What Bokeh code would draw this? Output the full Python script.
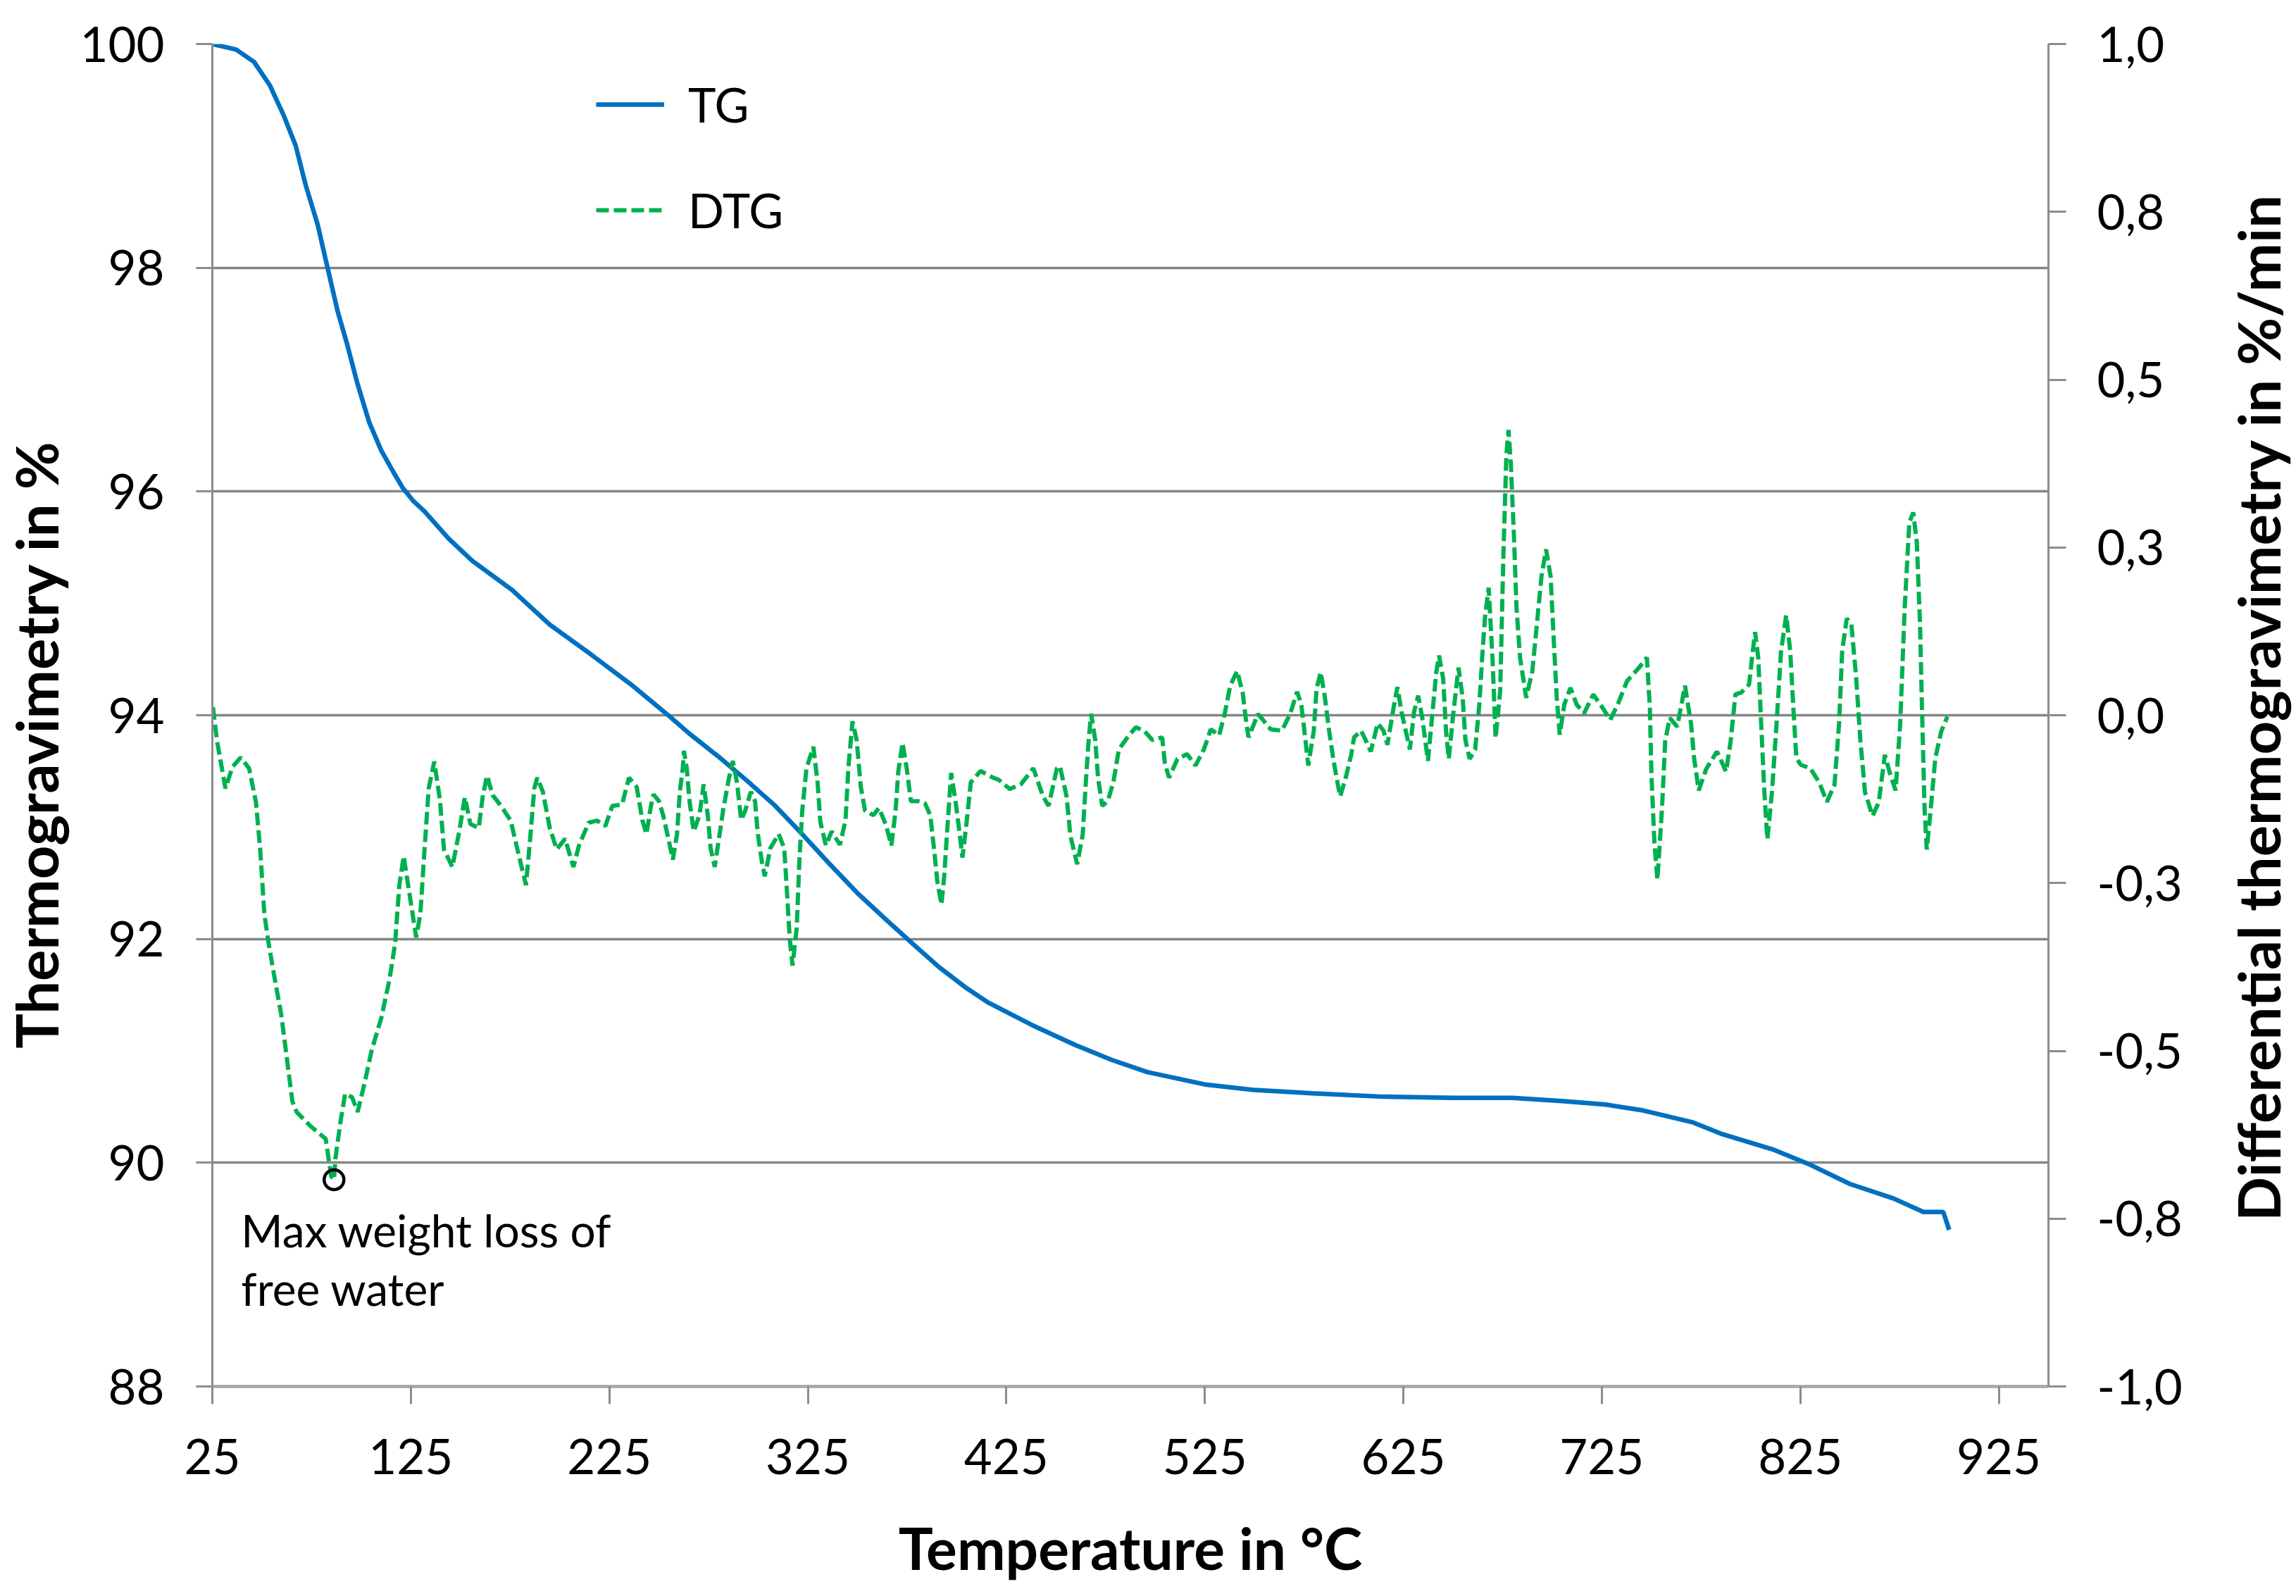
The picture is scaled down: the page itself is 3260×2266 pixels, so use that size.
import math
from bokeh.plotting import figure
from bokeh.layouts import row
from bokeh.models import Range1d, LinearAxis, FixedTicker, Legend, LegendItem
from bokeh.embed import file_html
from bokeh.resources import INLINE
from bokeh.core.properties import value

# ---------------- data ----------------
temp_tg = [25, 37, 46, 54, 61, 67, 72, 78, 82, 85, 88, 93, 98, 104, 110, 116, 121, 126, 132,
           144, 156, 176, 195, 216, 237, 254, 265, 280, 294, 308, 322, 336, 350, 364, 377,
           391, 405, 416, 438, 460, 478, 496, 525, 550, 579, 615, 651, 680, 706, 727, 745,
           771, 785, 811, 829, 850, 872, 887, 897, 900]
tg = [100.0, 99.95, 99.84, 99.63, 99.36, 99.09, 98.74, 98.39, 98.08, 97.85, 97.62, 97.31,
      96.97, 96.62, 96.37, 96.18, 96.03, 95.92, 95.82, 95.58, 95.38, 95.12, 94.81, 94.54,
      94.26, 94.01, 93.84, 93.63, 93.42, 93.20, 92.94, 92.67, 92.41, 92.18, 91.97, 91.75,
      91.56, 91.43, 91.23, 91.05, 90.92, 90.81, 90.70, 90.65, 90.62, 90.59, 90.58, 90.58,
      90.55, 90.52, 90.47, 90.36, 90.26, 90.12, 89.99, 89.81, 89.68, 89.56, 89.56, 89.40]

temp_dtg = [25.3, 27.4, 31.6, 35.1, 39.3, 43.5, 47.0, 49.1, 51.2, 53.3, 56.1, 59.7, 62.5, 65.3,
            67.4, 74.4, 82.1, 84.9, 86.3, 87.0, 89.8, 91.9, 95.4, 98.2, 101.7, 105.2, 110.1,
            114.3, 117.1, 119.2, 121.4, 124.2, 127.7, 129.8, 131.9, 134.0, 136.8, 139.6,
            141.7, 145.9, 149.4, 152.2, 155.0, 159.2, 161.3, 163.4, 166.2, 170.4, 175.3,
            179.5, 183.0, 185.1, 187.2, 188.7, 191.5, 195.0, 198.5, 202.7, 206.9, 209.7,
            214.6, 218.8, 223.0, 226.5, 231.4, 234.9, 238.8, 241.6, 243.7, 245.8, 247.2,
            250.0, 252.1, 254.2, 257.0, 259.1, 260.5, 262.0, 262.6, 264.0, 265.4, 267.5,
            270.4, 272.5, 274.6, 276.0, 278.1, 280.2, 282.3, 285.1, 287.2, 289.3, 291.4,
            293.5, 296.3, 298.4, 299.8, 301.9, 303.3, 306.1, 310.3, 313.1, 314.5, 315.9,
            317.3, 319.4, 320.8, 322.2, 324.3, 327.8, 329.9, 331.3, 334.1, 337.0, 341.2,
            344.0, 345.4, 347.5, 349.6, 351.7, 353.8, 358.0, 360.8, 364.3, 367.1, 369.2,
            370.6, 372.7, 374.8, 376.9, 380.4, 384.0, 386.7, 388.8, 390.2, 392.3, 393.7,
            395.1, 397.2, 399.4, 401.5, 402.9, 405.0, 407.1, 412.0, 418.3, 421.1, 426.7,
            432.3, 438.6, 443.5, 446.3, 450.5, 452.0, 455.3, 457.3, 460.7, 463.5, 464.9,
            466.3, 467.7, 469.8, 471.2, 473.3, 476.1, 478.9, 481.7, 486.0, 490.2, 494.4,
            498.6, 503.5, 504.9, 507.0, 511.2, 516.1, 520.3, 524.5, 528.0, 532.2, 535.0,
            537.8, 541.3, 544.1, 545.5, 547.0, 551.8, 558.2, 563.8, 568.0, 571.5, 573.6,
            575.7, 577.1, 579.9, 581.3, 583.4, 585.5, 587.6, 589.7, 591.8, 593.2, 596.0,
            598.8, 600.2, 603.7, 606.5, 608.6, 612.1, 615.0, 617.0, 619.9, 622.0, 624.1,
            626.2, 628.3, 630.4, 632.5, 634.6, 637.4, 639.5, 641.6, 643.0, 645.1, 646.5,
            647.9, 650.0, 652.8, 654.9, 656.3, 658.4, 661.2, 663.3, 664.7, 666.1, 668.0,
            670.0, 671.5, 673.8, 675.4, 676.9, 678.0, 679.2, 680.8, 682.0, 683.8, 686.9,
            690.0, 692.3, 694.6, 696.9, 699.2, 700.8, 702.3, 703.8, 706.1, 709.2, 712.3,
            716.1, 720.7, 725.4, 729.2, 733.0, 737.7, 743.8, 747.7, 749.2, 750.0, 751.5,
            753.0, 755.3, 756.9, 759.2, 763.0, 766.9, 770.0, 771.5, 773.8, 777.6, 783.0,
            787.6, 789.9, 792.3, 795.3, 799.2, 800.7, 802.2, 803.8, 805.3, 806.9, 808.4,
            810.7, 813.0, 815.3, 817.9, 819.9, 821.5, 823.0, 825.3, 830.0, 834.5, 838.4,
            842.2, 844.5, 846.1, 848.4, 850.7, 853.0, 855.3, 857.6, 861.4, 864.5, 867.6,
            870.0, 873.0, 875.3, 877.6, 879.9, 881.9, 883.7, 885.3, 886.5, 887.6, 888.7,
            890.7, 893.0, 896.0, 899.1]
dtg = [0.012, -0.039, -0.109, -0.077, -0.063, -0.079, -0.13, -0.20, -0.296, -0.339, -0.387,
       -0.446, -0.51, -0.575, -0.591, -0.612, -0.631, -0.687, -0.692, -0.66, -0.601, -0.564,
       -0.569, -0.591, -0.548, -0.50, -0.451, -0.393, -0.339, -0.253, -0.21, -0.264, -0.331,
       -0.296, -0.20, -0.109, -0.069, -0.125, -0.20, -0.226, -0.173, -0.122, -0.162, -0.168,
       -0.119, -0.09, -0.119, -0.135, -0.157, -0.21, -0.253, -0.184, -0.109, -0.093, -0.114,
       -0.168, -0.20, -0.184, -0.226, -0.194, -0.16, -0.157, -0.165, -0.135, -0.133, -0.093,
       -0.107, -0.156, -0.177, -0.138, -0.118, -0.128, -0.149, -0.177, -0.215, -0.177,
       -0.114, -0.079, -0.053, -0.079, -0.128, -0.173, -0.149, -0.103, -0.149, -0.198,
       -0.226, -0.184, -0.142, -0.096, -0.068, -0.10, -0.156, -0.142, -0.114, -0.128,
       -0.177, -0.219, -0.24, -0.198, -0.177, -0.198, -0.264, -0.334, -0.373, -0.317,
       -0.212, -0.142, -0.079, -0.047, -0.10, -0.159, -0.194, -0.173, -0.193, -0.156,
       -0.079, -0.009, -0.037, -0.107, -0.142, -0.149, -0.138, -0.163, -0.194, -0.142,
       -0.083, -0.041, -0.079, -0.128, -0.128, -0.131, -0.149, -0.205, -0.247, -0.282,
       -0.24, -0.177, -0.086, -0.128, -0.177, -0.212, -0.159, -0.10, -0.083, -0.093,
       -0.096, -0.11, -0.103, -0.079, -0.121, -0.135, -0.079, -0.076, -0.12, -0.18,
       -0.222, -0.177, -0.107, -0.044, 0.002, -0.037, -0.093, -0.135, -0.128, -0.10,
       -0.051, -0.033, -0.018, -0.023, -0.037, -0.033, -0.072, -0.093, -0.065, -0.058,
       -0.075, -0.051, -0.021, -0.03, 0.002, 0.044, 0.066, 0.033, -0.002, -0.033, 0.002,
       -0.021, -0.023, 0.002, 0.035, 0.016, -0.037, -0.075, -0.023, 0.04, 0.064, 0.026,
       -0.023, -0.065, -0.10, -0.121, -0.093, -0.058, -0.033, -0.023, -0.04, -0.054,
       -0.012, -0.023, -0.044, 0.008, 0.042, 0.005, -0.023, -0.051, 0.005, 0.029, -0.005,
       -0.068, -0.002, 0.064, 0.089, 0.054, -0.023, -0.065, -0.002, 0.071, 0.026, -0.037,
       -0.065, -0.051, 0.016, 0.085, 0.145, 0.19, 0.08, -0.034, 0.036, 0.237, 0.387,
       0.425, 0.372, 0.262, 0.161, 0.086, 0.026, 0.066, 0.136, 0.207, 0.247, 0.207, 0.111,
       0.026, -0.029, 0.016, 0.041, 0.016, 0.003, 0.031, 0.011, -0.007, 0.016, 0.051,
       0.071, 0.086, 0.011, -0.089, -0.19, -0.245, -0.14, -0.039, -0.004, -0.017, 0.044,
       -0.014, -0.064, -0.112, -0.08, -0.054, -0.084, -0.039, 0.031, 0.034, 0.046, 0.086,
       0.124, 0.086, -0.014, -0.115, -0.185, -0.115, -0.014, 0.096, 0.149, 0.096, 0.011,
       -0.064, -0.074, -0.079, -0.10, -0.129, -0.104, -0.014, 0.096, 0.144, 0.136, 0.061,
       -0.039, -0.115, -0.15, -0.13, -0.059, -0.085, -0.112, -0.014, 0.161, 0.287, 0.302,
       0.257, 0.136, -0.014, -0.14, -0.2, -0.14, -0.064, -0.024, -0.002]

x_ticks = [25, 125, 225, 325, 425, 525, 625, 725, 825, 925]
tg_ticks = [88, 90, 92, 94, 96, 98, 100]
dtg_ticks = [-1.0, -0.75, -0.5, -0.25, 0.0, 0.25, 0.5, 0.75, 1.0]
dtg_tick_labels = ["-1,0", "-0,8", "-0,5", "-0,3", "0,0", "0,3", "0,5", "0,8", "1,0"]
series_names = ["TG", "DTG"]
annotation_lines = ["Max weight loss of", "free water"]
x_title = "Temperature in °C"
tg_title = "Thermogravimetry in %"
dtg_title = "Differential thermogravimetry in %/min"

# ---------------- style ----------------
FONT = "Lato"
TICK_SIZE = "69px"
TITLE_SIZE = "83px"
TG_COLOR = "#0070C0"
DTG_COLOR = "#00B050"
GRID_COLOR = "#858585"
AXIS_COLOR = "#8c8c8c"
H = 2250
LEFT_W, MAIN_W, RIGHT_W = 104, 3004, 152


def title_strip(width, text, cx, cy):
    """A narrow figure that only holds an upward-reading axis title."""
    f = figure(width=width, height=H, output_backend="svg", toolbar_location=None,
               x_range=Range1d(0, width), y_range=Range1d(0, H),
               x_axis_location=None, y_axis_location=None, min_border=0)
    f.grid.visible = False
    f.outline_line_color = None
    f.text([cx], [cy], text=[text], angle=math.pi / 2, text_align="center",
           text_baseline="middle", text_font=value(FONT), text_font_size=TITLE_SIZE,
           text_font_style="bold", text_color="black")
    return f


p = figure(width=MAIN_W, height=H, output_backend="svg", toolbar_location=None,
           x_range=Range1d(25, 950), y_range=Range1d(88, 100),
           min_border_left=197, min_border_right=200, min_border_top=62,
           min_border_bottom=282)
p.extra_y_ranges = {"dtg": Range1d(-1, 1)}
p.outline_line_color = None
p.background_fill_color = "white"
p.border_fill_color = "white"

p.xgrid.visible = False
p.ygrid.ticker = FixedTicker(ticks=[t for t in tg_ticks if t > tg_ticks[0]])
p.ygrid.grid_line_color = GRID_COLOR
p.ygrid.grid_line_width = 3.5

right_axis = LinearAxis(y_range_name="dtg",
                        ticker=FixedTicker(ticks=dtg_ticks),
                        major_label_overrides=dict(zip(dtg_ticks, dtg_tick_labels)))
p.add_layout(right_axis, "right")

p.xaxis.ticker = FixedTicker(ticks=x_ticks)
p.yaxis[0].ticker = FixedTicker(ticks=tg_ticks)
p.xaxis.axis_label = x_title

for ax in [p.xaxis[0], p.yaxis[0], right_axis]:
    ax.major_label_text_font = FONT
    ax.major_label_text_font_size = TICK_SIZE
    ax.major_label_text_color = "black"
    ax.axis_label_text_font = FONT
    ax.axis_label_text_font_size = "82px"
    ax.axis_label_text_font_style = "bold"
    ax.axis_label_text_color = "black"
    ax.major_tick_in = 0
    ax.minor_tick_in = 0
    ax.minor_tick_out = 0
    ax.axis_line_color = AXIS_COLOR
    ax.axis_line_width = 3
    ax.major_tick_line_color = AXIS_COLOR
    ax.major_tick_line_width = 3

p.xaxis.axis_line_color = "#a6a6a6"
p.xaxis.axis_line_width = 4.5
p.xaxis.major_tick_out = 25
p.xaxis.major_label_standoff = 49
p.xaxis.axis_label_standoff = 52
p.yaxis[0].major_tick_out = 23
p.yaxis[0].major_label_standoff = 45
right_axis.major_tick_out = 25
right_axis.major_label_standoff = 44

tg_r = p.line(temp_tg, tg, line_color=TG_COLOR, line_width=6.5)
dtg_r = p.line(temp_dtg, dtg, y_range_name="dtg", line_color=DTG_COLOR,
               line_width=6, line_dash="18 7")

# marker at the maximum weight loss (DTG minimum)
i_min = min(range(len(dtg)), key=lambda i: dtg[i])
p.scatter([temp_dtg[i_min]], [dtg[i_min]], y_range_name="dtg", marker="circle",
          size=28, fill_color=None, line_color="black", line_width=4.5)
for k, line in enumerate(annotation_lines):
    p.text([temp_dtg[i_min]], [dtg[i_min]], text=[line], y_range_name="dtg",
           x_offset=-132, y_offset=72 + 83 * k,
           text_font=value(FONT), text_font_size="64px", text_color="black",
           text_align="left", text_baseline="alphabetic")

legend = Legend(items=[LegendItem(label=series_names[0], renderers=[tg_r]),
                       LegendItem(label=series_names[1], renderers=[dtg_r])],
                location=(545, 1630), orientation="vertical",
                label_text_font=FONT, label_text_font_size="67px",
                label_text_color="black",
                glyph_width=97, glyph_height=80, label_height=80,
                label_standoff=34, spacing=70, padding=0, margin=0,
                border_line_color=None, background_fill_alpha=0)
p.add_layout(legend)

left_strip = title_strip(LEFT_W, tg_title, 50, H - 1088 - 86)
right_strip = title_strip(RIGHT_W, dtg_title, 97, H - 1022 - 90)

layout = row(left_strip, p, right_strip)
open("out.html", "w").write(file_html(layout, INLINE))
